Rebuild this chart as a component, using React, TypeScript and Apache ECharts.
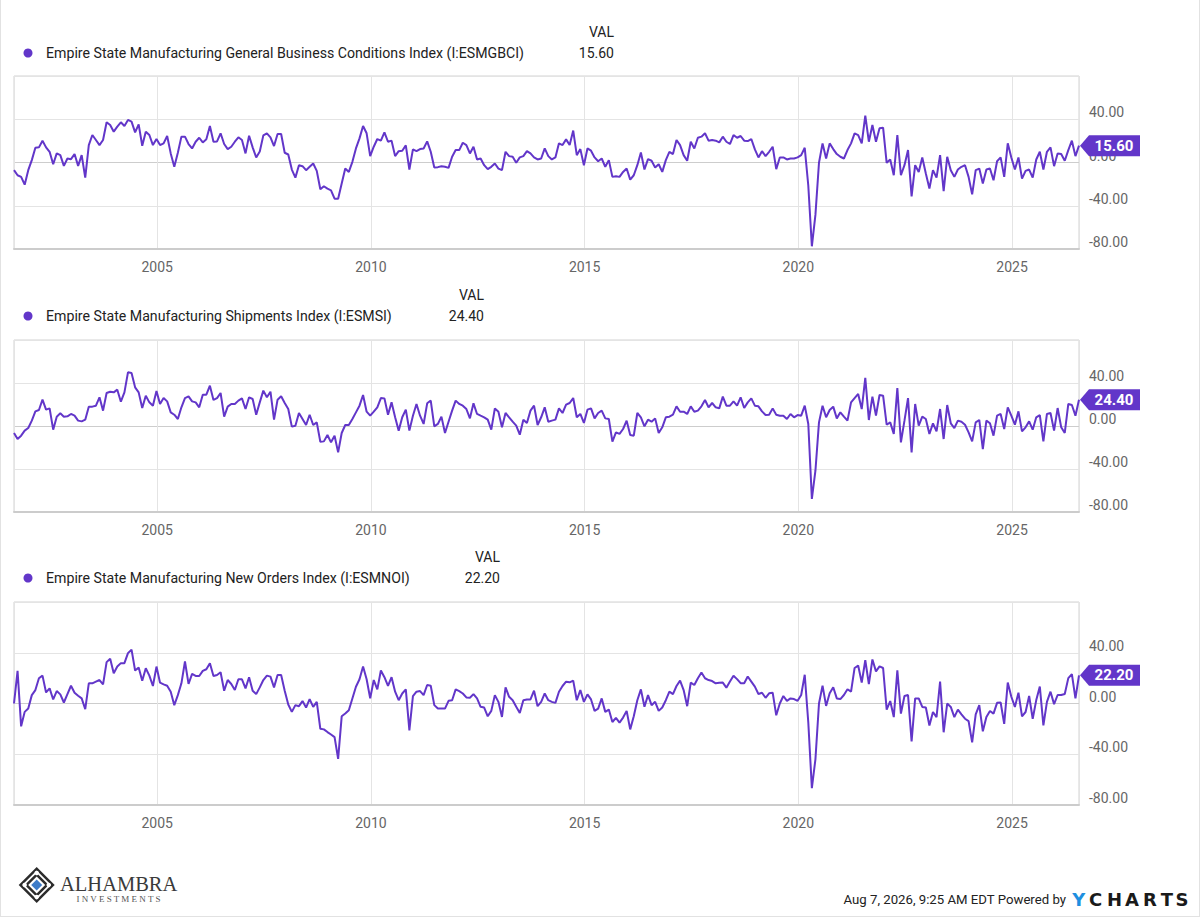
import React, { useEffect, useRef } from "react";
import * as echarts from "echarts";

// Monthly observations, first one is Aug 2001, last one is Jul 2026
const START_YEAR = 2001;
const START_MONTH = 8;

const TITLES = [
  "Empire State Manufacturing General Business Conditions Index (I:ESMGBCI)",
  "Empire State Manufacturing Shipments Index (I:ESMSI)",
  "Empire State Manufacturing New Orders Index (I:ESMNOI)",
];

// General Business Conditions
const gbci2001to2009 = [
  -7.1, -11.8, -13.3, -20.5, -7.1, 2.2, 13.6, 14.0, 20.2, 14.0,
  9.9, -1.6, 8.4, 6.8, -3.1, 3.7, 3.1, 7.8, -3.1, 6.8,
  -14.0, 16.1, 25.4, 20.8, 16.1, 20.8, 37.2, 34.7, 28.5, 33.2,
  37.2, 33.8, 39.4, 37.8, 27.9, 35.3, 15.5, 28.5, 25.4, 16.1,
  21.7, 16.1, 17.7, 24.5, 8.4, -4.0, 9.0, 23.9, 23.9, 17.1,
  13.0, 19.2, 22.9, 18.6, 21.4, 33.8, 19.2, 19.5, 27.0, 17.1,
  12.4, 14.6, 19.2, 23.3, 20.8, 8.4, 24.8, 14.0, 4.7, 10.2,
  25.1, 27.0, 23.3, 15.2, 26.4, 26.4, 9.0, 7.4, -6.5, -14.0,
  -2.5, -3.4, -7.1, -4.0, -0.9, -7.8, -24.8, -22.0, -24.2, -25.7,
  -33.5, -33.5, -19.5, -5.6, -8.7, 0.6, 13.0, 22.3, 33.8, 27.0,
];
const gbci2009to2018 = [
  5.9, 14.6, 21.7, 20.2, 27.9, 19.2, 20.2, 5.9, 10.5, 10.9,
  15.8, -6.5, 12.1, 10.5, 12.4, 13.0, 19.5, 9.9, -4.7, -4.3,
  -3.4, -4.0, -5.0, 5.3, 11.5, 11.5, 18.3, 16.1, 8.4, 14.6,
  2.8, 3.7, -2.5, -6.2, -4.0, -0.9, -5.6, -7.1, 9.9, 5.9,
  5.3, -0.3, 4.7, 5.9, 10.5, 8.4, 4.7, 2.8, 3.7, 13.0,
  5.9, 2.8, 4.7, 17.7, 16.1, 21.4, 16.1, 29.5, 6.8, 12.4,
  -2.5, 13.0, 10.9, 4.7, 1.2, 3.7, -4.0, 2.2, -13.3, -12.7,
  -13.3, -8.7, -5.6, -15.8, -11.8, -2.5, 9.3, -6.5, 3.1, 1.6,
  -4.7, -1.6, -8.7, 2.2, 9.9, 7.8, 20.8, 16.1, 6.8, 1.6,
  19.2, 13.0, 22.9, 23.9, 27.0, 20.2, 20.8, 20.2, 18.6,
];
const gbci2018to2026 = [
  23.9, 19.2, 17.1, 25.4, 22.9, 24.5, 20.2, 19.8, 21.7, 12.1,
  4.7, 10.5, 5.9, 9.9, 14.6, -6.2, 4.7, 4.7, 2.8, 3.7,
  3.7, 4.7, 6.8, 13.6, -21.5, -77.5, -48.5, -0.2, 17.7, 3.7,
  17.7, 12.4, 7.8, 5.3, 3.7, 11.5, 17.7, 27.0, 25.4, 17.7,
  43.4, 19.2, 34.7, 19.2, 31.6, 32.2, -0.3, 2.8, -11.8, 25.4,
  -11.8, -2.5, 11.5, -31.3, -2.5, -8.7, 4.7, -10.2, -24.0, -7.1,
  -14.0, 6.8, -26.4, 5.3, -7.1, -13.3, -6.5, -4.0, -2.5, -13.3,
  -29.5, -7.1, -5.6, -19.5, -6.5, -5.6, -16.4, 1.2, 4.7, -13.3,
  17.7, 4.7, -6.5, 4.7, -14.9, -7.8, -6.5, -14.0, 2.8, 9.9,
  -6.5, 9.9, 14.0, -3.4, 8.4, 7.8, 1.6, 11.5, 20.2, 5.9, 15.6,
];

// Shipments
const ship2001to2009 = [
  -6.5, -12.1, -9.0, -4.3, -1.9, 5.0, 13.6, 14.9, 24.5, 15.2,
  16.4, -3.4, 8.7, 11.8, 8.7, 9.0, 11.2, 9.6, 5.0, 4.3,
  5.9, 18.0, 18.0, 18.9, 26.7, 14.3, 30.7, 31.9, 31.3, 33.8,
  22.6, 31.3, 49.9, 49.3, 36.0, 31.3, 16.7, 28.2, 22.0, 18.9,
  32.6, 20.5, 26.0, 22.9, 12.7, 10.5, 6.5, 17.4, 26.0, 27.6,
  22.9, 22.0, 17.4, 29.1, 29.1, 37.5, 24.2, 26.0, 30.7, 8.7,
  18.0, 20.5, 20.5, 23.6, 25.7, 15.8, 26.7, 25.1, 10.5, 22.0,
  32.9, 26.7, 31.9, 5.9, 24.5, 27.6, 21.4, 15.8, -0.6, 0.3,
  12.1, 6.5, 0.9, 10.5, 0.9, 3.4, -14.6, -14.3, -8.4, -15.2,
  -9.0, -24.5, -6.5, 0.9, 0.9, 6.5, 12.7, 18.9, 28.8, 13.3,
];
const ship2009to2018 = [
  9.6, 13.3, 17.4, 26.0, 25.7, 10.5, 22.0, 8.1, -4.3, 8.1,
  15.2, -4.3, 9.6, 20.5, 9.6, 1.9, 21.1, 23.6, -0.3, 1.9,
  8.7, -6.5, 4.0, 14.3, 23.6, 20.5, 18.9, 15.8, 7.1, 21.1,
  11.2, 9.6, 8.1, 5.9, -3.4, 16.4, 13.3, -1.2, 12.1, 8.1,
  4.0, 0.3, -8.1, 5.9, 2.8, 14.3, 18.9, 0.9, 8.1, 17.4,
  4.0, 5.0, 5.9, 16.4, 12.1, 19.8, 21.4, 26.0, 8.1, 11.2,
  2.8, 15.2, 16.4, 7.1, 12.1, 14.3, 7.1, 6.5, -14.6, -5.9,
  -7.4, -2.8, 5.0, -8.4, -9.0, 12.1, 8.1, -0.3, 5.9, 4.0,
  7.1, -6.5, -1.2, 8.1, 8.7, 10.5, 18.3, 13.3, 13.3, 11.2,
  18.3, 13.3, 14.3, 18.3, 24.2, 17.4, 21.4, 17.4, 16.4,
];
const ship2018to2026 = [
  27.3, 18.9, 18.9, 22.9, 18.9, 26.7, 16.7, 22.0, 25.7, 18.9,
  18.3, 13.6, 10.2, 10.5, 16.4, 10.5, 9.6, 9.6, 6.5, 11.2,
  8.1, 10.2, 9.6, 18.9, 1.9, -67.9, -41.6, 3.4, 18.9, 8.1,
  14.9, 18.0, 7.1, 12.7, 8.7, 5.0, 22.0, 26.0, 29.8, 15.8,
  44.7, 5.6, 27.3, 9.6, 28.8, 28.2, 1.2, 3.4, -7.4, 35.3,
  -15.2, 5.0, 26.0, -24.5, 20.5, 0.3, 8.7, 6.5, -7.4, 2.5,
  -5.0, 15.8, -12.1, 19.5, 2.5, -1.9, 5.0, 4.0, 1.2, -5.9,
  -14.3, 3.4, 5.6, -21.4, 5.0, 2.5, -9.0, 9.6, 11.2, -2.8,
  17.4, 9.6, 1.2, 13.6, -5.0, -1.2, 4.3, -3.4, 8.1, 10.2,
  -14.3, 11.2, 12.1, -4.3, 16.7, -1.2, -6.5, 20.5, 19.5, 9.6, 24.4,
];

// New Orders
const orders2001to2009 = [
  0.0, 25.7, -18.0, -6.6, -4.0, 6.6, 10.6, 19.9, 22.0, 8.7,
  11.9, 3.2, 9.8, 7.2, 0.8, 7.4, 14.0, 8.5, 6.1, 4.0,
  -4.5, 15.9, 15.9, 17.2, 18.5, 15.1, 32.6, 35.2, 23.8, 29.1,
  31.8, 31.8, 39.7, 42.4, 26.0, 28.3, 18.0, 27.8, 22.0, 13.8,
  29.1, 16.4, 15.1, 14.0, 9.3, -1.3, 6.6, 15.9, 33.1, 15.4,
  23.3, 21.7, 21.7, 25.7, 27.0, 31.8, 21.7, 22.5, 24.6, 10.1,
  18.5, 15.4, 10.6, 19.1, 19.1, 11.9, 20.7, 10.1, 7.4, 12.7,
  18.5, 22.0, 21.2, 12.7, 22.5, 22.5, 10.1, -0.8, -6.6, -1.3,
  -2.1, 1.9, -3.2, 3.4, -2.6, 1.3, -19.9, -20.4, -22.5, -24.4,
  -26.5, -43.7, -10.1, -7.9, -5.3, 4.0, 13.2, 19.1, 29.1, 19.1,
];
const orders2009to2018 = [
  4.0, 18.5, 11.1, 26.0, 20.7, 13.8, 20.7, 9.3, 2.6, 7.9,
  11.1, -21.2, 5.8, 9.3, 9.8, 6.6, 14.6, 14.0, -1.3, -4.0,
  -4.0, -4.0, 2.1, 2.6, 11.1, 9.8, 7.9, 4.8, 4.5, 7.4,
  4.0, -2.6, -3.2, -10.1, -5.8, 6.6, 1.3, -10.6, 12.7, 5.3,
  2.6, -2.6, -7.4, 2.6, 3.2, 3.2, 10.1, -2.1, 1.3, 7.9,
  2.6, 1.3, 0.5, 9.3, 13.8, 17.2, 16.7, 18.0, 2.6, 10.6,
  1.3, 7.2, 3.2, -5.8, -4.0, 4.0, -6.6, -4.8, -14.6, -11.4,
  -15.1, -11.1, -5.8, -20.4, -10.1, 2.6, 11.1, -2.6, 6.6, -1.3,
  1.3, -5.8, -3.2, 2.6, 9.3, 7.4, 13.8, 18.0, 10.6, -2.1,
  16.4, 14.6, 19.9, 24.4, 19.9, 18.5, 17.7, 15.9, 16.4,
];
const orders2018to2026 = [
  16.5, 12.5, 17.3, 21.9, 19.2, 16.0, 16.0, 21.3, 17.3, 13.3,
  7.5, 8.5, 4.5, 8.0, 8.5, -9.3, 0.0, 5.9, 2.1, 4.0,
  3.5, 2.1, 6.7, 22.7, -15.0, -66.7, -44.0, 0.0, 14.1, -1.9,
  8.0, 12.8, 4.0, 3.5, 6.7, 11.2, 9.3, 28.0, 29.9, 16.5,
  34.1, 15.2, 34.7, 25.3, 29.3, 28.0, -4.8, 1.9, -10.7, 26.1,
  -8.0, 5.9, 6.7, -29.9, 4.0, 4.0, -2.7, -3.2, -17.3, -6.7,
  -10.7, 17.3, -22.7, 0.0, -2.7, -10.7, -4.8, -8.5, -12.0, -13.9,
  -30.7, -8.5, -1.3, -21.9, -10.7, -5.9, -8.0, 0.5, 0.8, -16.0,
  16.5, 5.3, -2.7, 8.5, -10.1, -6.7, 5.9, -12.0, 2.7, 13.3,
  -17.3, 1.3, 9.3, -0.5, 6.7, 6.7, 7.5, 20.0, 23.2, 4.0, 22.2,
];

const Y_TICKS = [-80, -40, 0, 40, 80];

const gbciValues = [...gbci2001to2009, ...gbci2009to2018, ...gbci2018to2026];
const shipValues = [...ship2001to2009, ...ship2009to2018, ...ship2018to2026];
const orderValues = [...orders2001to2009, ...orders2009to2018, ...orders2018to2026];
const SERIES = [gbciValues, shipValues, orderValues];

const LINE = "#6236c9";
const FONT = "Roboto";

// decimal year of the monthly observation (late in the month)
const xOf = (i: number) => START_YEAR + (START_MONTH - 1 + i + 0.8) / 12;

const PANELS = [
  { top: 76, height: 173, valY: 32, legY: 53, valRight: 614 },
  { top: 340, height: 172, valY: 295, legY: 316, valRight: 484 },
  { top: 602, height: 203, valY: 557, legY: 578, valRight: 500 },
];

function buildOption() {
  const n = gbciValues.length;
  const xMin = xOf(0);
  const xMax = xOf(n - 1);
  const graphics: any[] = [];

  PANELS.forEach((p, k) => {
    const last = SERIES[k][SERIES[k].length - 1];
    graphics.push(
      { type: "circle", shape: { cx: 28, cy: p.legY, r: 4.5 }, style: { fill: LINE }, silent: true },
      {
        type: "text",
        style: { text: TITLES[k], x: 46, y: p.legY, fill: "#222", fontSize: 14.15, fontFamily: FONT, verticalAlign: "middle", align: "left" },
        silent: true,
      },
      {
        type: "text",
        style: { text: "VAL", x: p.valRight, y: p.valY, fill: "#222", fontSize: 14, fontFamily: FONT, verticalAlign: "middle", align: "right" },
        silent: true,
      },
      {
        type: "text",
        style: { text: last.toFixed(2), x: p.valRight, y: p.legY, fill: "#222", fontSize: 14, fontFamily: FONT, verticalAlign: "middle", align: "right" },
        silent: true,
      }
    );
  });

  // page frame
  graphics.push(
    { type: "line", shape: { x1: 0.5, y1: 0, x2: 0.5, y2: 917 }, style: { stroke: "#e2e2e2", lineWidth: 1 }, silent: true },
    { type: "line", shape: { x1: 1199.5, y1: 0, x2: 1199.5, y2: 917 }, style: { stroke: "#e2e2e2", lineWidth: 1 }, silent: true },
    { type: "line", shape: { x1: 0, y1: 916.5, x2: 1200, y2: 916.5 }, style: { stroke: "#e2e2e2", lineWidth: 1 }, silent: true }
  );

  // footer: timestamp and YCharts mark
  graphics.push({
    type: "text",
    style: { text: "Aug 7, 2026, 9:25 AM EDT Powered by", x: 1066, y: 899, fill: "#222", fontSize: 13.2, fontFamily: FONT, align: "right", verticalAlign: "middle" },
    silent: true,
  });
  const yLetters = [
    { t: "Y", x: 1078.7, c: "#1e8fe0" },
    { t: "C", x: 1095.5, c: "#1a1a1a" },
    { t: "H", x: 1114.5, c: "#1a1a1a" },
    { t: "A", x: 1132, c: "#1a1a1a" },
    { t: "R", x: 1150, c: "#1a1a1a" },
    { t: "T", x: 1167, c: "#1a1a1a" },
    { t: "S", x: 1182, c: "#1a1a1a" },
  ];
  yLetters.forEach((l) =>
    graphics.push({
      type: "text",
      style: { text: l.t, x: l.x, y: 899, fill: l.c, fontSize: 18, fontWeight: "bold", fontFamily: "DejaVu Sans", align: "center", verticalAlign: "middle" },
      silent: true,
    })
  );

  // Alhambra Investments logo
  const cx = 36.7;
  const cy = 885;
  const dia = (h: number, fill: string) => ({
    type: "polygon",
    shape: { points: [[cx, cy - h], [cx + h, cy], [cx, cy + h], [cx - h, cy]] },
    style: { fill },
    silent: true,
  });
  graphics.push(dia(18, "#2b2b2b"), dia(14.5, "#ffffff"), dia(12, "#2b2b2b"), dia(8.5, "#ffffff"), dia(5.5, "#3d7cc9"));
  [
    [cx, cy - 12], [cx + 12, cy], [cx, cy + 12], [cx - 12, cy],
  ].forEach(([px, py]) => graphics.push({ type: "circle", shape: { cx: px, cy: py, r: 2.2 }, style: { fill: "#fff" }, silent: true }));
  graphics.push(
    {
      type: "text",
      style: { text: "ALHAMBRA", x: 60, y: 884, fill: "#3a3a3a", fontSize: 20.5, fontFamily: "Liberation Serif", align: "left", verticalAlign: "middle" },
      silent: true,
    },
    {
      type: "text",
      style: { text: "I N V E S T M E N T S", x: 118.5, y: 898.5, fill: "#555", fontSize: 9, fontFamily: "Liberation Serif", align: "center", verticalAlign: "middle" },
      silent: true,
    }
  );

  return {
    animation: false,
    backgroundColor: "#ffffff",
    textStyle: { fontFamily: FONT },
    grid: PANELS.map((p) => ({
      left: 14,
      top: p.top,
      width: 1065,
      height: p.height,
      show: true,
      borderColor: "#d2d2d2",
      borderWidth: 1,
      containLabel: false,
    })),
    xAxis: PANELS.map((p, k) => ({
      type: "value",
      gridIndex: k,
      min: xMin,
      max: xMax,
      splitNumber: 5,
      axisLine: { show: true, onZero: false, lineStyle: { color: "#cccccc", width: 2 } },
      axisTick: { show: false },
      axisLabel: {
        showMinLabel: false,
        showMaxLabel: false,
        formatter: (v: number) => String(Math.round(v)),
        color: "#666",
        fontSize: 14,
        fontFamily: FONT,
        margin: 11,
      },
      splitLine: { show: true, lineStyle: { color: "#e4e4e4", width: 1 } },
    })),
    yAxis: PANELS.map((p, k) => ({
      type: "value",
      gridIndex: k,
      position: "right",
      min: Y_TICKS[0],
      max: Y_TICKS[Y_TICKS.length - 1],
      interval: 40,
      axisLine: { show: false },
      axisTick: { show: false },
      axisLabel: {
        showMaxLabel: false,
        formatter: (v: number) => v.toFixed(2),
        color: "#666",
        fontSize: 14,
        fontFamily: FONT,
        margin: 10,
        align: "left",
        verticalAlign: "bottom",
        lineHeight: 14,
      },
      splitLine: { show: true, lineStyle: { color: ["#e4e4e4", "#e4e4e4", "#cdcdcd", "#e4e4e4", "#e4e4e4"], width: 1 } },
    })),
    series: SERIES.map((vals, k) => {
      const last = vals[vals.length - 1];
      return {
        type: "line",
        xAxisIndex: k,
        yAxisIndex: k,
        data: vals.map((v, i) => [xOf(i), v]),
        showSymbol: false,
        symbol: "none",
        silent: true,
        lineStyle: { color: LINE, width: 2 },
        itemStyle: { color: LINE },
        z: 3,
        markPoint: {
          silent: true,
          symbol: "path://M0,10 L9,0 L60,0 L60,20 L9,20 Z",
          symbolSize: [60, 21],
          symbolOffset: [31, 0],
          itemStyle: { color: LINE },
          label: {
            show: true,
            formatter: last.toFixed(2),
            color: "#fff",
            fontWeight: "bold",
            fontSize: 15,
            fontFamily: FONT,
            offset: [4, 0],
          },
          data: [{ coord: [xOf(vals.length - 1), last], value: last }],
        },
      };
    }),
    graphic: graphics,
  };
}

export default function App() {
  const ref = useRef<HTMLDivElement>(null);
  useEffect(() => {
    if (!ref.current) return;
    const chart = echarts.init(ref.current, null, { renderer: "svg" });
    chart.setOption(buildOption() as any);
    return () => chart.dispose();
  }, []);
  return (
    <div
      ref={ref}
      style={{ position: "absolute", left: 0, top: 0, width: 1200, height: 917, background: "#fff" }}
    />
  );
}
